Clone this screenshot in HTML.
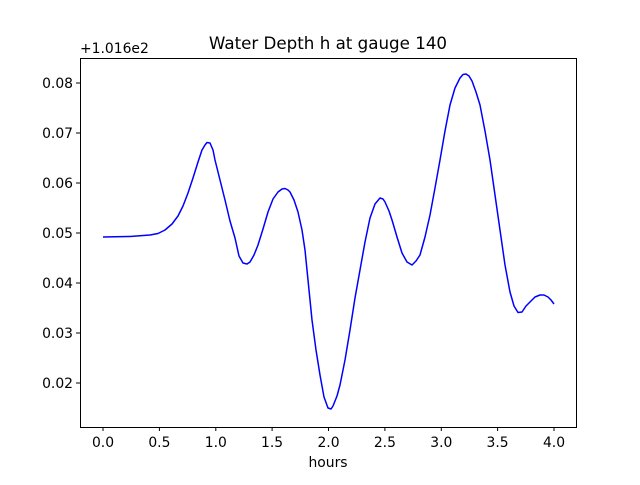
<!DOCTYPE html>
<html><head><meta charset="utf-8"><style>body{margin:0;background:#fff}</style></head>
<body>
<svg width="640" height="480" xmlns="http://www.w3.org/2000/svg" font-family="'DejaVu Sans', 'Liberation Sans', sans-serif" font-size="13.9">
<rect width="640" height="480" fill="#fff"/>
<polyline fill="none" stroke="#0000ff" stroke-width="1.5" stroke-linejoin="round" points="103,237 130,236.5 150,235 158,233.5 165,230 172,224 178,216 183,206 188,193 193,178 198,162 202,150 205,145 207,142.5 210,143 213,150 215,160 220,180 225,200 230,221 235,238 239,256 243,263 247,264 250,262 254,255 258,245 263,229 268,212 273,199 278,192 282,189 285,188.5 288,190 290,192 294,200 298,212 302,230 305,250 308,280 312,320 316,350 320,375 324,397 328,408 331,409 333,406 337,396 340,385 345,360 350,330 355,298 360,270 365,242 370,218 375,204 380,198 383,199 385,202 389,211 392,220 397,237 402,253 407,262 412,265 416,261 420,255 425,237 430,215 435,188 440,160 445,131 450,105 455,88 460,78 463,74.5 466,74 469,76 472,81 476,92 480,105 485,131 490,160 495,195 500,230 505,265 510,292 514,306 518,312.5 522,312 526,306 530,302 535,297 540,295 544,295 548,297 551,300 554,304"/>
<rect x="80.5" y="58.5" width="496" height="369" fill="none" stroke="#000" stroke-width="1"/>
<g stroke="#000" stroke-width="1">
<line x1="103" y1="427" x2="103" y2="431"/><line x1="159.4" y1="427" x2="159.4" y2="431"/><line x1="215.8" y1="427" x2="215.8" y2="431"/><line x1="272.1" y1="427" x2="272.1" y2="431"/><line x1="328.5" y1="427" x2="328.5" y2="431"/><line x1="384.9" y1="427" x2="384.9" y2="431"/><line x1="441.3" y1="427" x2="441.3" y2="431"/><line x1="497.6" y1="427" x2="497.6" y2="431"/><line x1="554" y1="427" x2="554" y2="431"/>
<line x1="76" y1="83" x2="80" y2="83"/><line x1="76" y1="133" x2="80" y2="133"/><line x1="76" y1="183" x2="80" y2="183"/><line x1="76" y1="233" x2="80" y2="233"/><line x1="76" y1="283" x2="80" y2="283"/><line x1="76" y1="333" x2="80" y2="333"/><line x1="76" y1="383" x2="80" y2="383"/>
</g>
<g text-anchor="middle">
<text x="103" y="447">0.0</text><text x="159.4" y="447">0.5</text><text x="215.8" y="447">1.0</text><text x="272.1" y="447">1.5</text><text x="328.5" y="447">2.0</text><text x="384.9" y="447">2.5</text><text x="441.3" y="447">3.0</text><text x="497.6" y="447">3.5</text><text x="554" y="447">4.0</text>
<text x="328" y="467">hours</text>
<text x="328" y="49" font-size="16.7">Water Depth h at gauge 140</text>
</g>
<g text-anchor="end">
<text x="73" y="88">0.08</text><text x="73" y="138">0.07</text><text x="73" y="188">0.06</text><text x="73" y="238">0.05</text><text x="73" y="288">0.04</text><text x="73" y="338">0.03</text><text x="73" y="388">0.02</text>
</g>
<text x="80" y="53">+1.016e2</text>
</svg>
</body></html>
